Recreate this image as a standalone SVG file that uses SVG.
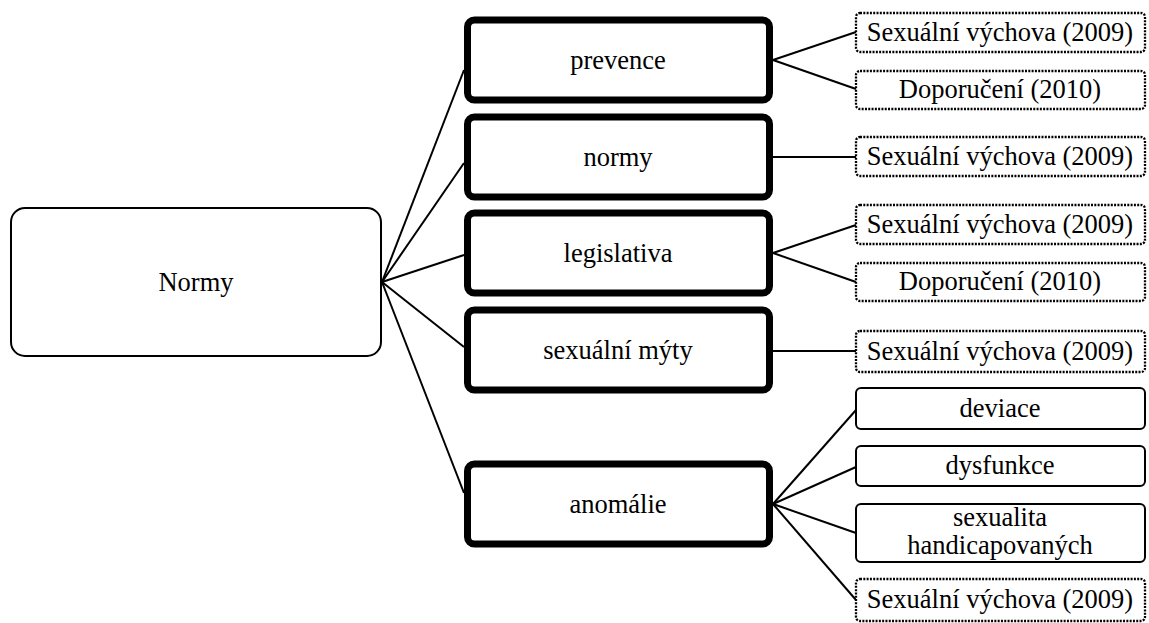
<svg xmlns="http://www.w3.org/2000/svg" width="1149" height="623" viewBox="0 0 1149 623">
<style>
.root{fill:#fff;stroke:#000;stroke-width:2}
.mid{fill:#fff;stroke:#000;stroke-width:7}
.leaf{fill:#fff;stroke:#000;stroke-width:2}
.dot{fill:#fff;stroke:#000;stroke-width:2.3;stroke-dasharray:2 1.3}
.conn line{stroke:#000;stroke-width:2}
</style>
<rect width="1149" height="623" fill="#fff"/>
<g class="conn" id="connectors">
<line x1="382" y1="282" x2="464" y2="70"/>
<line x1="382" y1="282" x2="464" y2="163"/>
<line x1="382" y1="282" x2="464" y2="255"/>
<line x1="382" y1="282" x2="464" y2="347"/>
<line x1="382" y1="282" x2="464" y2="493"/>
<line x1="773" y1="60" x2="856" y2="32"/>
<line x1="773" y1="60" x2="856" y2="89"/>
<line x1="773" y1="157" x2="856" y2="157"/>
<line x1="773" y1="253" x2="856" y2="225"/>
<line x1="773" y1="253" x2="856" y2="282"/>
<line x1="773" y1="351" x2="856" y2="351"/>
<line x1="773" y1="504" x2="856" y2="410"/>
<line x1="773" y1="504" x2="856" y2="467"/>
<line x1="773" y1="504" x2="856" y2="533"/>
<line x1="773" y1="504" x2="856" y2="600"/>
</g>
<g font-family="Liberation Serif" font-size="26.5" text-anchor="middle" fill="#000">
<g id="root"><rect class="root" x="11" y="208" width="370" height="148" rx="14"/><text x="196" y="291">Normy</text></g>
<g id="prevence"><rect class="mid" x="467.5" y="20" width="302" height="80" rx="7"/><text x="618" y="69">prevence</text></g>
<g id="normy"><rect class="mid" x="467.5" y="117" width="302" height="80" rx="7"/><text x="618" y="166">normy</text></g>
<g id="legislativa"><rect class="mid" x="467.5" y="213" width="302" height="80" rx="7"/><text x="618" y="262">legislativa</text></g>
<g id="myty"><rect class="mid" x="467.5" y="310" width="302" height="80" rx="7"/><text x="618" y="359">sexuální mýty</text></g>
<g id="anomalie"><rect class="mid" x="467.5" y="464" width="302" height="80" rx="7"/><text x="618" y="513">anomálie</text></g>
<g id="leaf1"><rect class="dot" x="856" y="13" width="289" height="39" rx="4"/><text x="1000" y="41">Sexuální výchova (2009)</text></g>
<g id="leaf2"><rect class="dot" x="856" y="71" width="289" height="38" rx="4"/><text x="1000" y="98">Doporučení (2010)</text></g>
<g id="leaf3"><rect class="dot" x="856" y="137" width="289" height="39" rx="4"/><text x="1000" y="165">Sexuální výchova (2009)</text></g>
<g id="leaf4"><rect class="dot" x="856" y="205" width="289" height="39" rx="4"/><text x="1000" y="233">Sexuální výchova (2009)</text></g>
<g id="leaf5"><rect class="dot" x="856" y="263" width="289" height="38" rx="4"/><text x="1000" y="290">Doporučení (2010)</text></g>
<g id="leaf6"><rect class="dot" x="856" y="331" width="289" height="41" rx="4"/><text x="1000" y="360">Sexuální výchova (2009)</text></g>
<g id="deviace"><rect class="leaf" x="856" y="388" width="289" height="41" rx="5"/><text x="1000" y="417">deviace</text></g>
<g id="dysfunkce"><rect class="leaf" x="856" y="446" width="289" height="40" rx="5"/><text x="1000" y="474">dysfunkce</text></g>
<g id="sexualita"><rect class="leaf" x="856" y="504" width="289" height="58" rx="5"/><text x="1000" y="526">sexualita</text><text x="1000" y="554">handicapovaných</text></g>
<g id="leaf10"><rect class="dot" x="856" y="579" width="289" height="42" rx="4"/><text x="1000" y="608">Sexuální výchova (2009)</text></g>
</g>
</svg>
